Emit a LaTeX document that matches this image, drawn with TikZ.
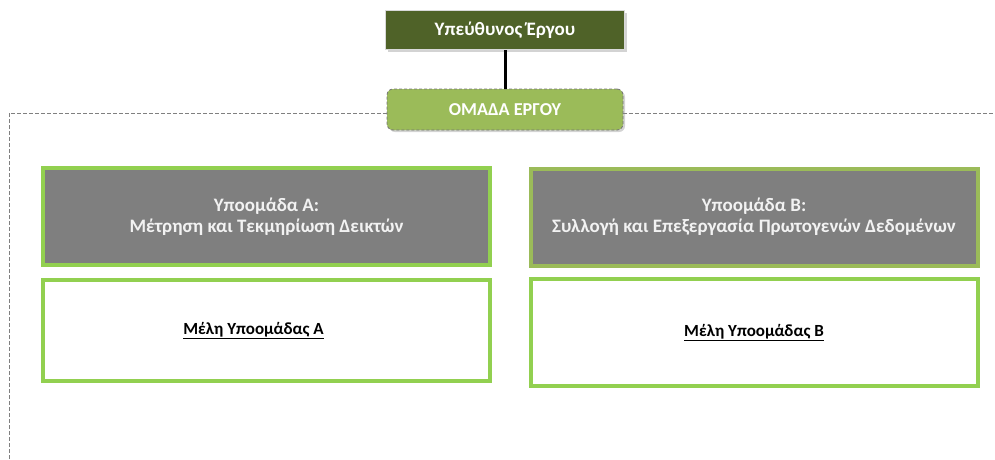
\documentclass[tikz,border=0pt]{standalone}
\usepackage{fontspec}
\setmainfont{Carlito}
\usetikzlibrary{shadows}
\definecolor{leadgreen}{HTML}{4F6228}
\definecolor{teamgreen}{HTML}{9BBB59}
\definecolor{boxgreen}{HTML}{92D050}
\definecolor{headgray}{HTML}{7F7F7F}
\definecolor{textwhite}{HTML}{F2F2F2}
\tikzset{
  shade/.style={drop shadow={shadow xshift=2pt,shadow yshift=-2pt,opacity=0.35}},
  leadbox/.style={shade,draw=black!15,line width=1pt,fill=leadgreen,text=white,
    minimum width=239,minimum height=39,font=\bfseries\fontsize{19}{22}\selectfont},
  teambox/.style={shade,draw=black!55,densely dashed,line width=0.8pt,rounded corners=6pt,
    fill=teamgreen,text=white,minimum width=236,minimum height=41,
    font=\bfseries\fontsize{18.2}{20}\selectfont},
  headbox/.style={shade,draw=#1,line width=4pt,fill=headgray,text=textwhite,
    minimum width=447,minimum height=97,align=center,
    font=\bfseries\fontsize{19}{21}\selectfont},
  membox/.style={shade,draw=boxgreen,line width=4pt,fill=white,text=black,
    minimum width=447,minimum height=101,font=\bfseries\fontsize{17}{18}\selectfont},
  frame/.style={draw=black!50,dash pattern=on 4pt off 2pt,line width=0.8pt}
}
\begin{document}
\begin{tikzpicture}[x=1pt,y=-1pt]
  \useasboundingbox (0,0) rectangle (995,459);
  % top of the chart
  \node[leadbox] (lead) at (505,30) {Υπεύθυνος Έργου};
  \node[teambox] (team) at (505,109.5) {ΟΜΑΔΑ ΕΡΓΟΥ};
  \draw[line width=3pt] (lead.south) -- (team.north);
  % dashed frame
  \coordinate (ftop) at (9,113);
  \draw[frame] (team.west |- ftop) -- (ftop) -- (9,459);
  \draw[frame] (team.east |- ftop) -- (995,113);
  % subgroups
  \node[headbox=boxgreen] (headA) at (266.5,216.5) {Υποομάδα Α:\\Μέτρηση και Τεκμηρίωση Δεικτών};
  \node[headbox=teamgreen] (headB) at (754,217) {Υποομάδα Β:\\Συλλογή και Επεξεργασία Πρωτογενών Δεδομένων};
  \node[membox] (memA) at (266.5,330.5) {\underline{Μέλη Υποομάδας Α}\hspace*{26pt}};
  \node[membox,minimum height=107] (memB) at (754,332.5) {\underline{Μέλη Υποομάδας Β}};
\end{tikzpicture}
\end{document}
